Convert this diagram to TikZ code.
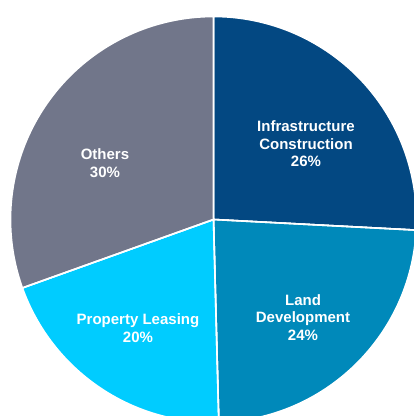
\documentclass[tikz,border=0pt]{standalone}
\usepackage{fontspec}
\setmainfont{Liberation Sans}
\definecolor{infra}{RGB}{3,72,130}
\definecolor{land}{RGB}{0,137,186}
\definecolor{prop}{RGB}{0,204,255}
\definecolor{others}{RGB}{113,118,138}
\tikzset{
  slice/.style={draw=white, line width=1.6pt, line join=miter},
  lbl/.style={text=white, font=\fontsize{15}{17.5}\selectfont\bfseries, align=center, inner sep=0pt}
}
\begin{document}
\begin{tikzpicture}[x=1pt,y=1pt]
\useasboundingbox (0,0) rectangle (414,416);
\begin{scope}
\clip (0,0) rectangle (414,416);
\coordinate (c) at (213.5,196.5);
\def\R{203}
\fill[slice, fill=infra] (c) -- ++(90:\R) arc[start angle=90, end angle=-3, radius=\R] -- cycle;
\fill[slice, fill=land] (c) -- ++(-3:\R) arc[start angle=-3, end angle=-88.5, radius=\R] -- cycle;
\fill[slice, fill=prop] (c) -- ++(-88.5:\R) arc[start angle=-88.5, end angle=-160.3, radius=\R] -- cycle;
\fill[slice, fill=others] (c) -- ++(-160.3:\R) arc[start angle=-160.3, end angle=-270, radius=\R] -- cycle;
\draw[slice] (c) -- ++(90:\R);
\draw[slice] (c) -- ++(-3:\R);
\draw[slice] (c) -- ++(-88.5:\R);
\draw[slice] (c) -- ++(-160.3:\R);
\end{scope}
\node[lbl] (tinfra) at (306,272) {Infrastructure\\Construction\\26\%};
\node[lbl] (tland) at (303,98.5) {Land\\Development\\24\%};
\node[lbl] (tprop) at (138,88) {Property Leasing\\20\%};
\node[lbl] (tothers) at (105,253) {Others\\30\%};
\end{tikzpicture}
\end{document}
